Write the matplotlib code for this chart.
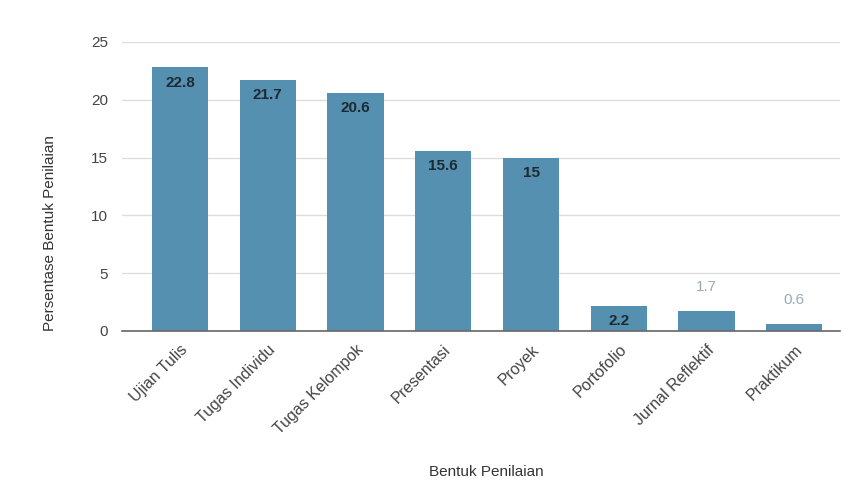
import matplotlib.pyplot as plt
from matplotlib.transforms import ScaledTranslation

plt.rcParams['font.family'] = ['Liberation Sans', 'DejaVu Sans']

categories = ["Ujian Tulis", "Tugas Individu", "Tugas Kelompok", "Presentasi",
              "Proyek", "Portofolio", "Jurnal Reflektif", "Praktikum"]
values = [22.8, 21.7, 20.6, 15.6, 15, 2.2, 1.7, 0.6]
yticks = [0, 5, 10, 15, 20, 25]

bar_color = "#5590b0"

fig = plt.figure(figsize=(8.43, 4.9), dpi=100)
ax = fig.add_axes([0.1447, 0.3245, 0.8517, 0.5898])

x = list(range(len(categories)))
ax.bar(x, values, width=0.64, color=bar_color, zorder=3)

for xi, v in zip(x, values):
    label = f"{v:g}"
    if v >= 2:
        ax.text(xi, v - 0.7, label, ha="center", va="top", fontsize=11,
                fontweight="bold", color="#1e2a33", zorder=4)
    else:
        ax.text(xi, v + 1.5, label, ha="center", va="bottom", fontsize=11,
                color="#9aaab5", zorder=4)

ax.set_ylim(0, 25)
ax.set_xlim(-0.66, 7.52)
ax.set_yticks(yticks)
ax.set_yticklabels([str(t) for t in yticks], fontsize=11, color="#444444")
ax.set_xticks(x)
ax.set_xticklabels(categories, rotation=45, ha="right", rotation_mode="anchor",
                   fontsize=11.5, color="#444444")
offset = ScaledTranslation(10 / 100, 0, fig.dpi_scale_trans)
for lbl in ax.get_xticklabels():
    lbl.set_transform(lbl.get_transform() + offset)
ax.tick_params(axis="y", length=0, pad=10)
ax.tick_params(axis="x", length=0, pad=8)

ax.grid(axis="y", color="#dddddd", linewidth=1, zorder=0)
for s in ["top", "right", "left"]:
    ax.spines[s].set_visible(False)
ax.spines["bottom"].set_color("#666666")
ax.spines["bottom"].set_linewidth(1.2)
ax.spines["bottom"].set_zorder(5)

ax.set_ylabel("Persentase Bentuk Penilaian", fontsize=11, color="#333333")
ax.yaxis.set_label_coords(-0.09, 0.34)
ax.set_xlabel("Bentuk Penilaian", fontsize=11, color="#333333")
ax.xaxis.set_label_coords(0.508, -0.464)

fig.savefig("out.png", dpi=100, facecolor="white")
